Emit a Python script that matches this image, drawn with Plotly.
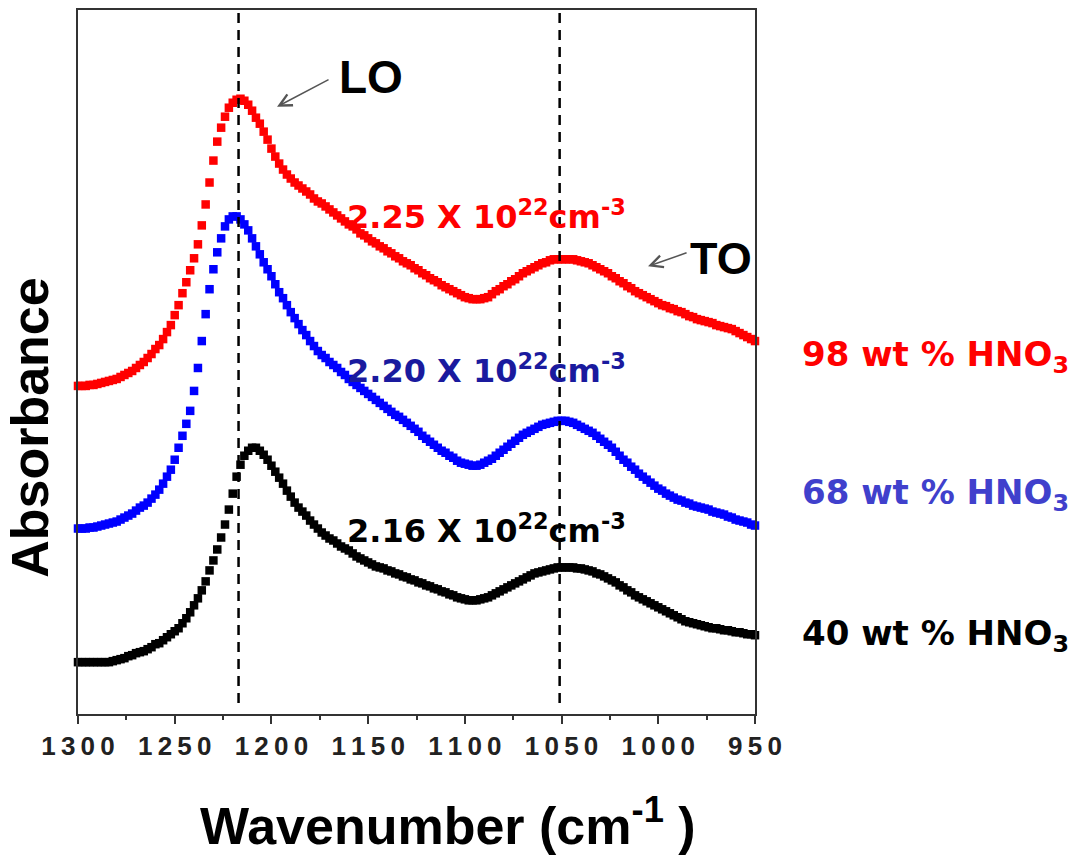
import plotly.graph_objects as go

# Wavenumber grid (cm^-1), 2 cm^-1 spacing, high to low
wavenumber = list(range(1300, 949, -2))

# Absorbance (arbitrary units, spectra offset vertically)
abs_98 = [
    329, 329, 329, 330, 330, 331, 332, 333, 334, 335,
    336, 338, 340, 342, 344, 347, 350, 353, 357, 361,
    366, 370, 376, 383, 390, 400, 410, 422, 433, 445,
    457, 471, 490, 511, 533, 555, 574, 588, 599, 608,
    613, 616, 617, 615, 611, 605, 598, 592, 584, 576,
    567, 559, 552, 546, 541, 537, 533, 530, 527, 524,
    521, 517, 514, 512, 509, 506, 503, 500, 497, 494,
    491, 489, 486, 482, 480, 477, 474, 472, 469, 467,
    464, 462, 459, 457, 454, 452, 450, 447, 445, 442,
    440, 437, 435, 433, 430, 428, 426, 424, 422, 420,
    418, 417, 416, 416, 416, 417, 418, 421, 424, 426,
    429, 431, 434, 436, 439, 442, 444, 446, 448, 450,
    452, 453, 455, 456, 456, 456, 456, 456, 456, 455,
    454, 453, 452, 450, 448, 446, 444, 442, 439, 437,
    434, 432, 429, 427, 424, 422, 420, 418, 416, 414,
    412, 410, 409, 407, 406, 404, 403, 401, 399, 398,
    396, 395, 394, 393, 392, 390, 389, 388, 387, 386,
    384, 382, 380, 378, 376, 374,
]
abs_68 = [
    186, 186, 186, 187, 187, 188, 189, 190, 191, 192,
    193, 195, 197, 199, 201, 204, 207, 209, 212, 216,
    220, 225, 231, 238, 245, 255, 267, 279, 291, 304,
    324, 347, 374, 401, 426, 446, 463, 477, 489, 496,
    499, 499, 496, 491, 485, 477, 469, 461, 453, 446,
    439, 431, 423, 417, 410, 403, 397, 391, 385, 380,
    374, 369, 364, 360, 357, 353, 350, 347, 343, 340,
    336, 333, 330, 327, 324, 321, 318, 315, 312, 309,
    306, 303, 300, 298, 295, 292, 289, 286, 283, 279,
    276, 273, 270, 267, 264, 262, 259, 257, 254, 252,
    251, 250, 249, 249, 250, 252, 254, 256, 259, 262,
    265, 268, 271, 274, 277, 280, 282, 284, 286, 288,
    290, 291, 292, 293, 294, 294, 294, 293, 292, 290,
    288, 286, 284, 282, 279, 276, 273, 270, 267, 263,
    259, 255, 252, 248, 245, 241, 238, 235, 232, 229,
    226, 224, 221, 219, 217, 215, 214, 212, 211, 209,
    208, 207, 206, 205, 203, 202, 201, 200, 198, 197,
    195, 194, 193, 192, 190, 189,
]
abs_40 = [
    52, 52, 52, 52, 52, 52, 52, 52, 52, 53,
    54, 55, 56, 58, 59, 61, 62, 63, 65, 67,
    70, 71, 74, 77, 80, 83, 86, 91, 96, 102,
    109, 116, 124, 133, 144, 154, 165, 177, 190, 205,
    221, 238, 250, 259, 264, 267, 267, 264, 260, 255,
    249, 243, 237, 231, 224, 218, 212, 207, 203, 199,
    194, 190, 186, 182, 179, 176, 174, 171, 168, 166,
    164, 161, 158, 156, 154, 152, 150, 148, 147, 146,
    144, 143, 141, 140, 138, 137, 135, 134, 132, 131,
    129, 128, 126, 125, 123, 122, 120, 119, 117, 116,
    115, 114, 114, 114, 115, 116, 117, 119, 121, 123,
    125, 127, 129, 131, 133, 135, 137, 139, 141, 142,
    143, 144, 145, 146, 147, 147, 147, 147, 147, 146,
    146, 145, 144, 143, 141, 140, 138, 136, 134, 132,
    129, 127, 124, 122, 119, 117, 115, 113, 111, 109,
    107, 105, 103, 101, 99, 97, 95, 93, 92, 91,
    90, 89, 88, 87, 86, 86, 85, 84, 84, 83,
    82, 82, 81, 80, 80, 79,
]
for s in (abs_98, abs_68, abs_40):
    assert len(s) == len(wavenumber)

series_labels = ["98 wt % HNO<sub>3</sub>", "68 wt % HNO<sub>3</sub>", "40 wt % HNO<sub>3</sub>"]
series_colors = ["#ff0000", "#0000ff", "#000000"]
label_colors = ["#ff0000", "#4040cc", "#000000"]
density_labels = ["2.25 X 10<sup>22</sup>cm<sup>-3</sup>",
                  "2.20 X 10<sup>22</sup>cm<sup>-3</sup>",
                  "2.16 X 10<sup>22</sup>cm<sup>-3</sup>"]
density_colors = ["#ff0000", "#1a1a9e", "#000000"]
density_y = [500, 346, 186]
label_y = [359, 220, 79]

peak_positions = [1217, 1051]          # LO and TO band positions
tick_values = [1300, 1250, 1200, 1150, 1100, 1050, 1000, 950]
minor_tick_values = [1275, 1225, 1175, 1125, 1075, 1025, 975]
y_range = [0, 706]

fig = go.Figure()

for vals, col in zip([abs_98, abs_68, abs_40], series_colors):
    fig.add_trace(go.Scatter(
        x=wavenumber, y=vals, mode="markers",
        marker=dict(symbol="square", size=8.5, color=col, line=dict(width=0)),
        cliponaxis=False, showlegend=False, hoverinfo="skip",
    ))

for p in peak_positions:
    fig.add_shape(type="line", xref="x", yref="y", x0=p, x1=p, y0=11, y1=y_range[1],
                  line=dict(color="black", width=2.5, dash="10px,7px"))

annotations = []
bold_dv = dict(family="DejaVu Sans", size=32, weight="bold")
for txt, col, yv in zip(density_labels, density_colors, density_y):
    annotations.append(dict(x=1162, y=yv, xref="x", yref="y", text=txt, showarrow=False,
                            xanchor="left", yanchor="middle",
                            font=dict(**bold_dv, color=col)))
for txt, col, yv in zip(series_labels, label_colors, label_y):
    annotations.append(dict(x=1.0665, y=yv, xref="paper", yref="y", text=txt, showarrow=False,
                            xanchor="left", yanchor="middle",
                            font=dict(family="DejaVu Sans", size=34, weight="bold", color=col)))

# band assignments with arrows
annotations.append(dict(x=1148.5, y=639, xref="x", yref="y", text="LO", showarrow=False,
                        font=dict(family="Liberation Sans", size=46, weight="bold", color="black")))
annotations.append(dict(x=967.6, y=457, xref="x", yref="y", text="TO", showarrow=False,
                        font=dict(family="Liberation Sans", size=45, weight="bold", color="black")))
annotations.append(dict(x=1197.1, y=609, ax=1169.7, ay=637, xref="x", yref="y", axref="x", ayref="y",
                        text="", showarrow=True, arrowhead=5, arrowsize=1.6, arrowwidth=1.5,
                        arrowcolor="#555555", standoff=0, startstandoff=0))
annotations.append(dict(x=1005.3, y=449, ax=984.6, ay=463, xref="x", yref="y", axref="x", ayref="y",
                        text="", showarrow=True, arrowhead=5, arrowsize=1.6, arrowwidth=1.5,
                        arrowcolor="#555555", standoff=0, startstandoff=0))

# axis titles
annotations.append(dict(x=0.5465, y=-0.153, xref="paper", yref="paper",
                        text="Wavenumber (cm<sup>-1</sup> )", showarrow=False,
                        xanchor="center", yanchor="middle",
                        font=dict(family="Liberation Sans", size=52, weight="bold", color="black")))
annotations.append(dict(x=-0.0709, y=0.4065, xref="paper", yref="paper",
                        text="Absorbance", showarrow=False, textangle=-90,
                        xanchor="center", yanchor="middle",
                        font=dict(family="Liberation Sans", size=52, weight="bold", color="black")))

fig.update_layout(
    width=1075, height=857,
    margin=dict(l=78, r=320, t=8, b=143),
    paper_bgcolor="white", plot_bgcolor="white",
    annotations=annotations,
    xaxis=dict(
        range=[1300, 950], showline=True, linewidth=2, linecolor="#333333", mirror=True,
        showgrid=False, zeroline=False,
        ticks="outside", ticklen=8, tickwidth=2, tickcolor="#333333",
        tickmode="array", tickvals=tick_values,
        ticktext=["\u2009".join(str(v)) for v in tick_values],
        tickfont=dict(family="Liberation Sans Narrow, Liberation Sans", size=26,
                      weight="bold", color="#222222"),
        minor=dict(tickmode="array", tickvals=minor_tick_values, ticks="outside",
                   ticklen=4, tickwidth=2, tickcolor="#333333"),
    ),
    yaxis=dict(
        range=y_range, showline=True, linewidth=2, linecolor="#333333", mirror=True,
        showgrid=False, zeroline=False, ticks="", showticklabels=False,
    ),
)

fig.write_html("out.html")
